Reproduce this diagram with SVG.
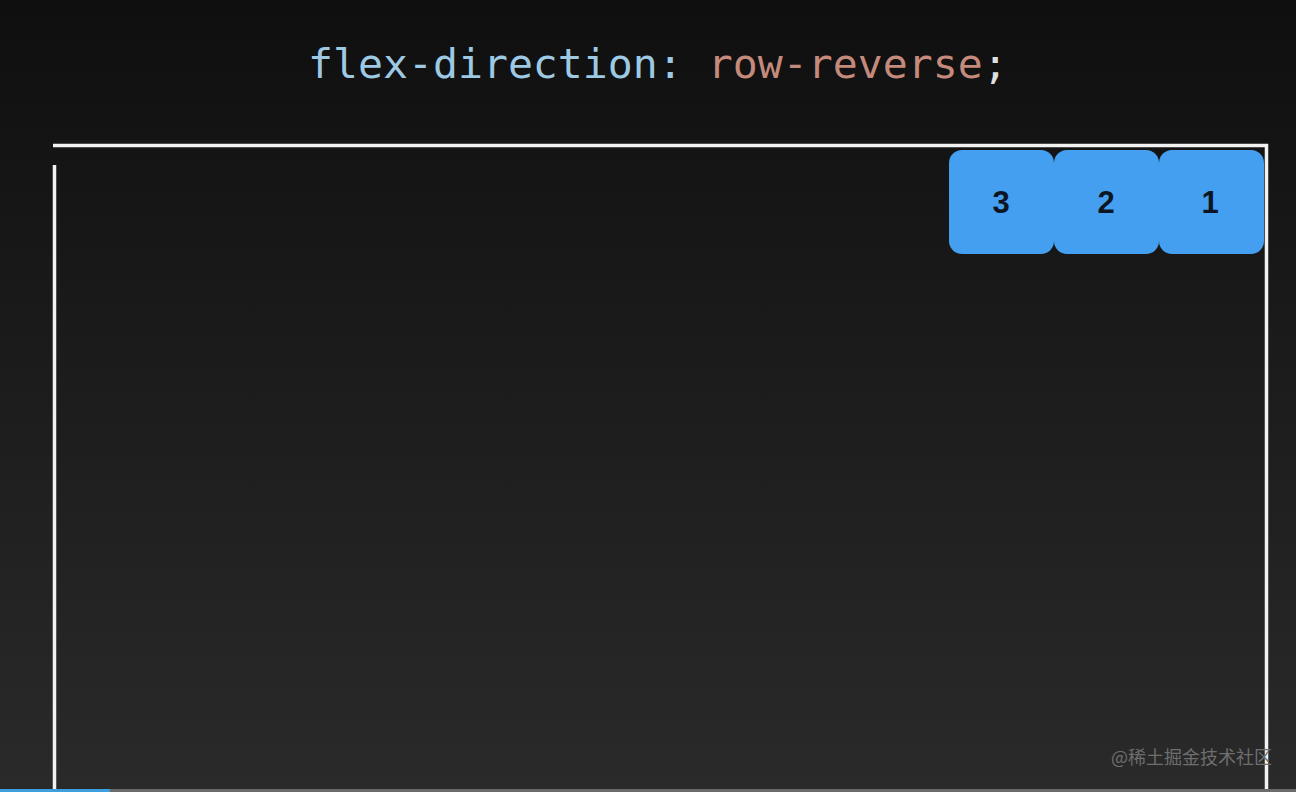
<svg xmlns="http://www.w3.org/2000/svg" width="1296" height="792" viewBox="0 0 1296 792">
<defs>
<linearGradient id="bg" x1="0" y1="0" x2="0" y2="1">
<stop offset="0" stop-color="#0f0f0f"/>
<stop offset="1" stop-color="#2a2a2a"/>
</linearGradient>
</defs>
<style>
.code{font-family:"DejaVu Sans Mono","Liberation Mono",monospace;font-size:41.5px}
.box{fill:#459ff0}
.num{font-family:"Liberation Sans",Arial,sans-serif;font-size:31px;font-weight:bold;fill:#0c1622;text-anchor:middle}
.frame{stroke:#f2f2f2;stroke-width:3.5;fill:none}
</style>
<rect width="1296" height="792" fill="url(#bg)"/>
<text class="code" x="308" y="78"><tspan fill="#9dc9e3">flex-direction:</tspan><tspan fill="#d6d6d6"> </tspan><tspan fill="#c48a7b">row-reverse</tspan><tspan fill="#e0e0e0">;</tspan></text>
<g id="container">
<path class="frame" d="M53 145.5 H1266.5 V792"/>
<path class="frame" d="M54.5 165 V792"/>
</g>
<g id="item3"><rect class="box" x="949" y="150" width="105" height="104" rx="13"/><text class="num" x="1001" y="213">3</text></g>
<g id="item2"><rect class="box" x="1054" y="150" width="105" height="104" rx="13"/><text class="num" x="1106" y="213">2</text></g>
<g id="item1"><rect class="box" x="1159" y="150" width="105" height="104" rx="13"/><text class="num" x="1210" y="213">1</text></g>
<g id="connectors"></g>
<rect x="0" y="789" width="1296" height="3" fill="#6a6a6a"/>
<rect x="0" y="789" width="110" height="3" fill="#3d9ee0"/>
<text x="1111" y="764" font-family="'Noto Sans CJK SC','Liberation Sans',sans-serif" font-size="18" fill="#6e6e6e">@稀土掘金技术社区</text>
</svg>
